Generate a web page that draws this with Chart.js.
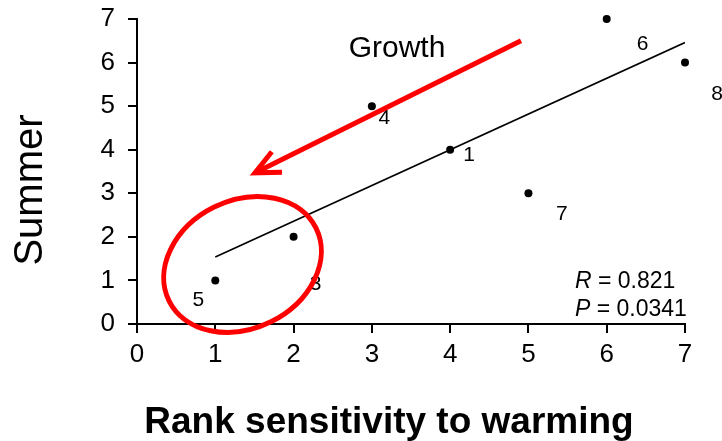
<!DOCTYPE html>
<html>
<head>
<meta charset="utf-8">
<script src="https://cdn.jsdelivr.net/npm/chart.js@4"></script>
<style>
  html, body { margin: 0; padding: 0; background: #fff; }
  #wrap { width: 722px; height: 441px; }
</style>
</head>
<body>
<div id="wrap"><canvas id="c" width="722" height="441"></canvas></div>
<script>
// ---- data ----
const rankSensitivity = [1, 2, 3, 4, 5, 6, 7];
const summerRank      = [1, 2, 5, 4, 3, 7, 6];
const siteLabels      = ['5', '3', '4', '1', '7', '6', '8'];
const fitX = [1, 7];
const fitY = [1.54, 6.46];
const xTickLabels = ['0', '1', '2', '3', '4', '5', '6', '7'];
const yTickLabels = ['0', '1', '2', '3', '4', '5', '6', '7'];
const xTitle = 'Rank sensitivity to warming';
const yTitle = 'Summer';
const arrowText = 'Growth';
const statR = ['R', ' = 0.821'];
const statP = ['P', ' = 0.0341'];
// arrow (data coords) and highlighted ellipse centre
const arrowFrom = { x: 4.905, y: 6.50 };
const arrowTo   = { x: 1.507, y: 3.47 };
const ringCentre = { x: 1.348, y: 1.366 };

// ---- styling / placement (not data) ----
const FONT = "'Liberation Sans', Arial, Helvetica, sans-serif";
const labelOffsets = [[-17, 20], [22, 47], [12.5, 12], [19, 5], [33.5, 21], [36, 25.5], [32, 32]];
const RED = '#ff0000';

const annot = {
  id: 'annot',
  afterDatasetsDraw(chart) {
    const ctx = chart.ctx;
    const xs = chart.scales.x, ys = chart.scales.y;
    const ca = chart.chartArea;
    ctx.save();
    // point labels
    ctx.fillStyle = '#000';
    ctx.font = '21px ' + FONT;
    ctx.textAlign = 'center';
    ctx.textBaseline = 'middle';
    rankSensitivity.forEach((x, i) => {
      const px = xs.getPixelForValue(x), py = ys.getPixelForValue(summerRank[i]);
      ctx.fillText(siteLabels[i], px + labelOffsets[i][0], py + labelOffsets[i][1]);
    });
    // ellipse
    ctx.strokeStyle = RED;
    ctx.lineWidth = 5;
    ctx.beginPath();
    ctx.ellipse(xs.getPixelForValue(ringCentre.x), ys.getPixelForValue(ringCentre.y), 82, 64, -26.3 * Math.PI / 180, 0, Math.PI * 2);
    ctx.stroke();
    // arrow
    const x0 = xs.getPixelForValue(arrowFrom.x), y0 = ys.getPixelForValue(arrowFrom.y);
    const x1 = xs.getPixelForValue(arrowTo.x),   y1 = ys.getPixelForValue(arrowTo.y);
    const ang = Math.atan2(y0 - y1, x0 - x1);
    ctx.lineCap = 'butt';
    ctx.lineJoin = 'miter';
    ctx.beginPath();
    ctx.moveTo(x0, y0);
    ctx.lineTo(x1 + 2 * Math.cos(ang), y1 + 2 * Math.sin(ang));
    ctx.stroke();
    const wing = 27, spread = 25 * Math.PI / 180;
    ctx.beginPath();
    ctx.moveTo(x1 + wing * Math.cos(ang - spread), y1 + wing * Math.sin(ang - spread));
    ctx.lineTo(x1, y1);
    ctx.lineTo(x1 + wing * Math.cos(ang + spread), y1 + wing * Math.sin(ang + spread));
    ctx.stroke();
    // Growth label
    ctx.fillStyle = '#000';
    ctx.font = '30px ' + FONT;
    ctx.textAlign = 'center';
    ctx.textBaseline = 'alphabetic';
    ctx.fillText(arrowText, 397, 57);
    // stats
    ctx.textAlign = 'left';
    const drawStat = (parts, x, y) => {
      ctx.font = 'italic 23px ' + FONT;
      ctx.fillText(parts[0], x, y);
      const w = ctx.measureText(parts[0]).width;
      ctx.font = '23px ' + FONT;
      ctx.fillText(parts[1], x + w, y);
    };
    drawStat(statR, ca.right - 110, ca.bottom - 36);
    drawStat(statP, ca.right - 110, ca.bottom - 8);
    // axis titles
    ctx.font = 'bold 37px ' + FONT;
    ctx.textAlign = 'center';
    ctx.fillText(xTitle, 389, 433);
    ctx.save();
    ctx.translate(42, 190);
    ctx.rotate(-Math.PI / 2);
    ctx.font = '40px ' + FONT;
    ctx.fillText(yTitle, 0, 0);
    ctx.restore();
    ctx.restore();
  }
};

const axisCommon = {
  type: 'linear',
  min: 0,
  max: 7,
  grid: { display: true, drawOnChartArea: false, drawTicks: true, tickLength: 9, color: '#000', lineWidth: 2 },
  border: { display: true, color: '#000', width: 2 },
};

new Chart(document.getElementById('c'), {
  type: 'scatter',
  data: {
    datasets: [
      {
        label: 'Sites',
        data: rankSensitivity.map((x, i) => ({ x: x, y: summerRank[i] })),
        backgroundColor: '#000',
        borderColor: '#000',
        pointRadius: 4,
        pointBorderWidth: 0,
        showLine: false,
        clip: false
      },
      {
        label: 'Fit',
        type: 'line',
        data: fitX.map((x, i) => ({ x: x, y: fitY[i] })),
        borderColor: '#000',
        borderWidth: 1.7,
        pointRadius: 0,
        fill: false,
        tension: 0
      }
    ]
  },
  options: {
    responsive: false,
    animation: false,
    layout: { padding: { top: 19, right: 37, left: 0, bottom: 0 } },
    plugins: { legend: { display: false }, tooltip: { enabled: false } },
    scales: {
      x: Object.assign({}, axisCommon, {
        ticks: { stepSize: 1, color: '#000', padding: 6, maxRotation: 0, font: { family: FONT, size: 26 },
                 callback: (v) => xTickLabels[v] },
        afterFit: (s) => { s.height = 117; s.paddingLeft = 0; s.paddingRight = 0; }
      }),
      y: Object.assign({}, axisCommon, {
        ticks: { stepSize: 1, color: '#000', padding: 13, font: { family: FONT, size: 26 },
                 callback: (v) => yTickLabels[v] },
        afterFit: (s) => { s.width = 137; s.paddingTop = 0; s.paddingBottom = 0; }
      })
    }
  },
  plugins: [annot]
});
</script>
</body>
</html>
